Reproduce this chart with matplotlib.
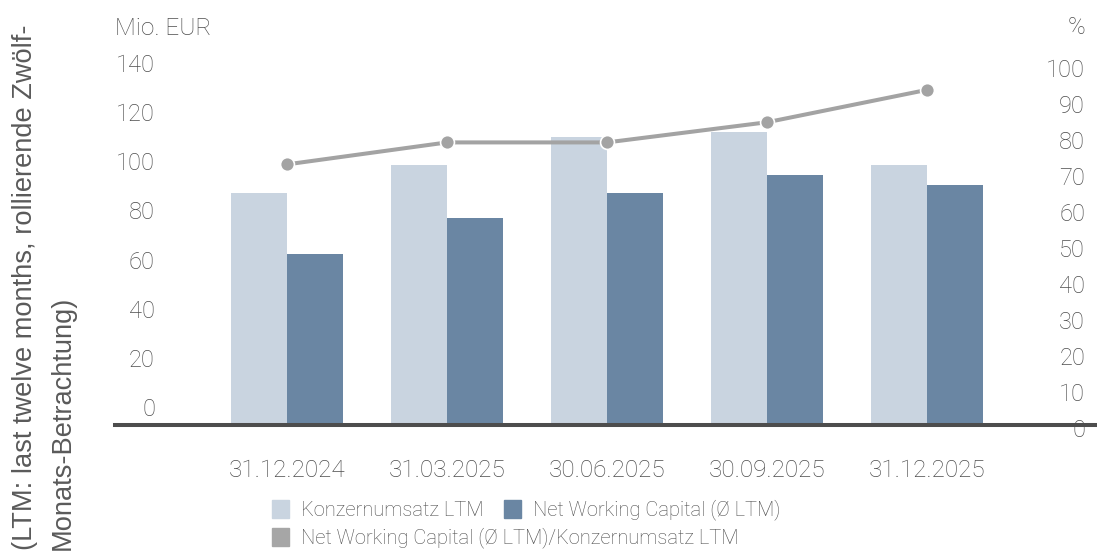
import matplotlib
matplotlib.use("Agg")
import matplotlib.pyplot as plt
import matplotlib.transforms as mtransforms
from matplotlib.patches import Patch
import numpy as np

# data
dates = ["31.12.2024", "31.03.2025", "30.06.2025", "30.09.2025", "31.12.2025"]
umsatz = [94.5, 106, 117.3, 119.4, 106]        # Konzernumsatz LTM, Mio. EUR
nwc = [69.6, 84.4, 94.5, 101.7, 97.7]          # Net Working Capital (Ø LTM), Mio. EUR
quote = [72.4, 78.5, 78.5, 84.1, 93.1]         # NWC / Umsatz, %
left_ticks = list(range(0, 141, 20))
right_ticks = list(range(0, 101, 10))

c_light = "#c9d4e0"
c_dark = "#6a86a3"
c_line = "#a3a3a3"
c_text = "#4d4d4d"
tfont = dict(family=["Roboto", "DejaVu Sans"], weight="light")

fig = plt.figure(figsize=(10.97, 5.52), dpi=100)
ax = fig.add_axes([115 / 1097, 127 / 552, 982 / 1097, 380 / 552])
ax2 = ax.twinx()

x = np.arange(len(dates))
w = 0.35
ax.bar(x - w / 2, umsatz, w, color=c_light, zorder=2)
ax.bar(x + w / 2, nwc, w, color=c_dark, zorder=2)
ax2.plot(x, quote, color=c_line, lw=2.9, marker="o", ms=10,
         mec="white", mew=1.2, zorder=3)

ax.set_xlim(-1.075, 5.0625)
ax.set_ylim(0, 154.66)
ax2.set_ylim(0, 105.56)

for a in (ax, ax2):
    for s in a.spines.values():
        s.set_visible(False)
ax.spines["bottom"].set_visible(True)
ax.spines["bottom"].set_linewidth(2.9)
ax.spines["bottom"].set_color("#4d4d4d")
ax.spines["bottom"].set_zorder(5)

ax.set_xticks(x)
ax.set_xticklabels(dates, fontsize=17.5, color=c_text, **tfont)
ax.tick_params(axis="x", length=0, pad=24.5)

ax.set_yticks(left_ticks)
ax.set_yticklabels([str(v) for v in left_ticks], fontsize=17, color=c_text, **tfont)
ax.tick_params(axis="y", length=0, pad=-28.8)
up = mtransforms.ScaledTranslation(0, 0.18, fig.dpi_scale_trans)
for lab in ax.get_yticklabels():
    lab.set_transform(lab.get_transform() + up)

ax2.set_yticks(right_ticks)
ax2.set_yticklabels([str(v) for v in right_ticks], fontsize=17, color=c_text, **tfont)
ax2.tick_params(axis="y", length=0, pad=-8.6)
down = mtransforms.ScaledTranslation(0, -0.03, fig.dpi_scale_trans)
for lab in ax2.get_yticklabels():
    lab.set_horizontalalignment("right")
    lab.set_transform(lab.get_transform() + down)

fig.text(115 / 1097, 1 - 28 / 552, "Mio. EUR", fontsize=17.5, color=c_text,
         ha="left", va="center", **tfont)
fig.text(1085 / 1097, 1 - 28 / 552, "%", fontsize=17, color=c_text,
         ha="right", va="center", **tfont)

fig.text(25 / 1097, 0.003, "(LTM: last twelve months, rollierende Zwölf-",
         rotation=90, fontsize=19.6, color="#5a5a5a", ha="center", va="bottom",
         family=["Liberation Sans", "DejaVu Sans"])
fig.text(63 / 1097, 0.003, "Monats-Betrachtung)",
         rotation=90, fontsize=19.6, color="#5a5a5a", ha="center", va="bottom",
         family=["Liberation Sans", "DejaVu Sans"])

lfont = dict(family=["Roboto", "DejaVu Sans"], weight="light", size=14.5)
h1 = [Patch(color=c_light, label="Konzernumsatz LTM"),
      Patch(color=c_dark, label="Net Working Capital (Ø LTM)")]
h2 = [Patch(color="#a6a6a6", label="Net Working Capital (Ø LTM)/Konzernumsatz LTM")]
leg1 = fig.legend(handles=h1, ncol=2, loc="center left",
                  bbox_to_anchor=(272 / 1097, 1 - 510 / 552), frameon=False,
                  prop=lfont, handlelength=0.85, handleheight=0.95,
                  handletextpad=0.6, columnspacing=1.0, borderpad=0, borderaxespad=0)
leg2 = fig.legend(handles=h2, loc="center left",
                  bbox_to_anchor=(272 / 1097, 1 - 538 / 552), frameon=False,
                  prop=lfont, handlelength=0.85, handleheight=0.95,
                  handletextpad=0.6, borderpad=0, borderaxespad=0)
for leg in (leg1, leg2):
    for t in leg.get_texts():
        t.set_color(c_text)

fig.savefig("out.png", dpi=100)
